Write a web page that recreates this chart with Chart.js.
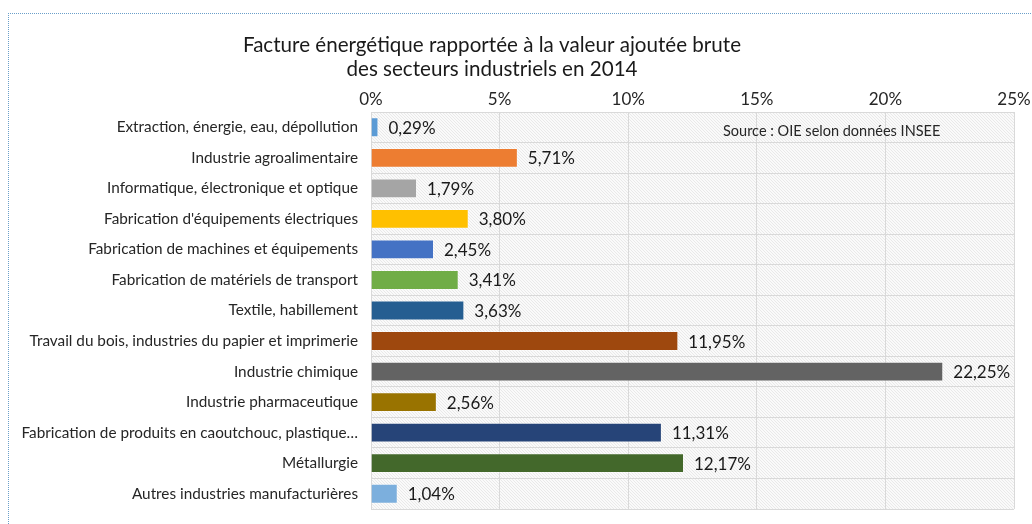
<!DOCTYPE html>
<html>
<head>
<meta charset="utf-8">
<script src="https://cdn.jsdelivr.net/npm/chart.js@4"></script>
<style>
  html, body { margin: 0; padding: 0; background: #fff; }
  #wrap { position: relative; width: 1032px; height: 524px; overflow: hidden; }
  #cadre { position: absolute; left: 8px; top: 13px; width: 1100px; height: 600px;
           border-top: 1px dotted #6a9fc9; border-left: 1px dotted #6a9fc9; }
  #chart { position: absolute; left: 0; top: 0; }
</style>
</head>
<body>
<div id="wrap">
  <div id="cadre"></div>
  <canvas id="chart" width="1032" height="524"></canvas>
</div>
<script>
// Données
const secteurs = [
  'Extraction, énergie, eau, dépollution',
  'Industrie agroalimentaire',
  'Informatique, électronique et optique',
  "Fabrication d'équipements électriques",
  'Fabrication de machines et équipements',
  'Fabrication de matériels de transport',
  'Textile, habillement',
  'Travail du bois, industries du papier et imprimerie',
  'Industrie chimique',
  'Industrie pharmaceutique',
  'Fabrication de produits en caoutchouc, plastique…',
  'Métallurgie',
  'Autres industries manufacturières'
];
const valeurs = [0.29, 5.71, 1.79, 3.80, 2.45, 3.41, 3.63, 11.95, 22.25, 2.56, 11.31, 12.17, 1.04];
const couleurs = ['#5b9bd5', '#ed7d31', '#a5a5a5', '#ffc000', '#4472c4', '#70ad47', '#255e91',
                  '#9e480e', '#636363', '#997300', '#264478', '#43682b', '#7cafdd'];
const titre = ['Facture énergétique rapportée à la valeur ajoutée brute', 'des secteurs industriels en 2014'];
const source = 'Source : OIE selon données INSEE';

const police = "Lato, 'Open Sans', sans-serif";

// Motif hachuré (très clair) du fond de la zone de tracé
function motifHachure(ctx) {
  const c = document.createElement('canvas');
  c.width = 3; c.height = 3;
  const p = c.getContext('2d');
  p.fillStyle = '#fafafa';
  p.fillRect(0, 0, 3, 3);
  p.fillStyle = '#e9e9e9';
  p.fillRect(0, 0, 1, 1);
  p.fillRect(1, 1, 1, 1);
  p.fillRect(2, 2, 1, 1);
  return ctx.createPattern(c, 'repeat');
}

const fondPlugin = {
  id: 'fond',
  beforeDraw(chart) {
    const { ctx, chartArea: a } = chart;
    ctx.save();
    ctx.fillStyle = motifHachure(ctx);
    ctx.fillRect(a.left, a.top, a.right - a.left, a.bottom - a.top);
    ctx.restore();
  }
};

const textesPlugin = {
  id: 'textes',
  afterDraw(chart) {
    const { ctx } = chart;
    ctx.save();
    // Titre
    ctx.fillStyle = '#1a1a1a';
    ctx.font = '20.6px ' + police;
    ctx.textAlign = 'center';
    ctx.textBaseline = 'middle';
    ctx.fillText(titre[0], 492, 45);
    ctx.fillText(titre[1], 492, 69);
    // Source
    ctx.font = '14.5px ' + police;
    ctx.textAlign = 'left';
    ctx.fillStyle = '#262626';
    ctx.fillText(source, 723, 131);
    // Etiquettes de valeurs
    const meta = chart.getDatasetMeta(0);
    ctx.font = '17px ' + police;
    ctx.fillStyle = '#1a1a1a';
    meta.data.forEach((bar, i) => {
      const txt = valeurs[i].toFixed(2).replace('.', ',') + '%';
      ctx.fillText(txt, bar.x + 10, bar.y + 1);
    });
    ctx.restore();
  }
};

new Chart(document.getElementById('chart'), {
  type: 'bar',
  data: {
    labels: secteurs,
    datasets: [{
      data: valeurs,
      backgroundColor: couleurs,
      borderColor: 'rgba(255,255,255,0.35)',
      borderWidth: 1,
      categoryPercentage: 1,
      barPercentage: 0.65
    }]
  },
  options: {
    indexAxis: 'y',
    responsive: false,
    animation: false,
    layout: { padding: { top: 80, left: 0, right: 18, bottom: 15 } },
    plugins: { legend: { display: false }, tooltip: { enabled: false } },
    scales: {
      x: {
        position: 'top',
        min: 0, max: 25,
        ticks: { stepSize: 5, color: '#262626', font: { family: police, size: 17 }, padding: 2,
                 callback: v => v + '%' },
        grid: { color: '#d9d9d9', drawTicks: false },
        border: { display: false },
        afterFit: s => { s.height = 32; s.paddingLeft = 0; s.paddingRight = 0; }
      },
      y: {
        ticks: { color: '#262626', font: { family: police, size: 15.3 }, padding: 13, autoSkip: false },
        grid: { color: '#d9d9d9', drawTicks: false },
        border: { display: false },
        afterFit: s => { s.width = 371; s.paddingTop = 0; s.paddingBottom = 0; }
      }
    }
  },
  plugins: [fondPlugin, textesPlugin]
});
</script>
</body>
</html>
